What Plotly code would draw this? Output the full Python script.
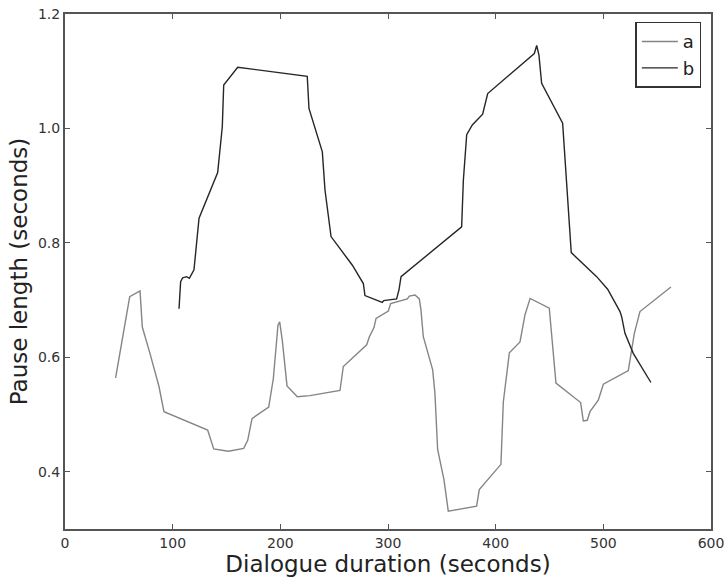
import plotly.graph_objects as go

a_x = [47.0, 52.0, 60.1, 69.7, 71.8, 78.9, 87.3, 91.9, 132.5, 138.1, 151.7, 166.0, 169.7, 173.7,
       189.2, 193.5, 197.8, 199.4, 201.8, 206.2, 215.8, 227.5, 255.4, 258.5, 280.2, 282.7, 287.0,
       288.9, 300.3, 302.5, 318.0, 319.8, 325.1, 329.1, 330.6, 332.8, 341.5, 343.6, 346.1, 352.0,
       356.0, 382.3, 384.8, 404.9, 407.1, 412.7, 422.6, 427.2, 432.0, 449.8, 456.0, 478.9, 481.4,
       485.1, 487.6, 495.3, 500.0, 523.2, 528.8, 534.0, 562.8]
a_y = [0.564, 0.616, 0.706, 0.716, 0.653, 0.607, 0.549, 0.505, 0.473, 0.440, 0.436, 0.441, 0.455, 0.493,
       0.513, 0.563, 0.656, 0.662, 0.630, 0.550, 0.531, 0.533, 0.542, 0.584, 0.622, 0.636, 0.652,
       0.668, 0.681, 0.694, 0.702, 0.707, 0.709, 0.702, 0.683, 0.636, 0.578, 0.537, 0.439, 0.386,
       0.331, 0.340, 0.369, 0.413, 0.522, 0.608, 0.627, 0.674, 0.703, 0.686, 0.555, 0.521, 0.489,
       0.490, 0.505, 0.525, 0.553, 0.577, 0.642, 0.680, 0.723]

b_x = [105.9, 107.4, 109.3, 113.0, 115.5, 119.8, 124.5, 141.8, 146.1, 147.4, 160.4, 225.0, 226.6,
       239.0, 241.5, 247.1, 266.9, 277.1, 278.6, 294.7, 296.0, 308.0, 310.2, 312.1, 368.4, 370.0,
       373.1, 378.3, 387.9, 392.6, 435.9, 438.1, 440.2, 442.7, 462.2, 470.2, 493.8, 504.0, 515.5,
       517.0, 520.1, 527.8, 544.2]
b_y = [0.685, 0.732, 0.739, 0.741, 0.738, 0.753, 0.843, 0.923, 1.003, 1.076, 1.107, 1.091, 1.035,
       0.959, 0.892, 0.811, 0.761, 0.729, 0.708, 0.696, 0.699, 0.702, 0.718, 0.741, 0.828, 0.910,
       0.989, 1.006, 1.025, 1.061, 1.131, 1.145, 1.128, 1.079, 1.009, 0.783, 0.741, 0.719, 0.680,
       0.671, 0.642, 0.607, 0.556]

x_ticks = [0, 100, 200, 300, 400, 500, 600]
y_ticks = [0.4, 0.6, 0.8, 1.0, 1.2]

fig = go.Figure()
fig.add_trace(go.Scatter(x=a_x, y=a_y, mode="lines", name="a",
                         line=dict(color="#858585", width=1.4)))
fig.add_trace(go.Scatter(x=b_x, y=b_y, mode="lines", name="b",
                         line=dict(color="#262626", width=1.4)))

axis_common = dict(showline=True, linecolor="#555555", linewidth=2, mirror="ticks",
                   ticks="inside", ticklen=5, tickcolor="#555555", tickwidth=1,
                   showgrid=False, zeroline=False, automargin=False,
                   tickfont=dict(family="DejaVu Sans", size=14, color="#333333"))

fig.update_layout(
    width=727, height=582,
    margin=dict(l=65, r=16, t=14, b=53),
    plot_bgcolor="white", paper_bgcolor="white",
    xaxis=dict(range=[0, 600], tickvals=x_ticks,
               title=dict(text="Dialogue duration (seconds)", standoff=2,
                          font=dict(family="DejaVu Sans", size=23, color="#222222")),
               **axis_common),
    yaxis=dict(range=[0.3, 1.2], tickvals=y_ticks, tickformat=".1f",
               title=dict(text="Pause length (seconds)", standoff=4,
                          font=dict(family="DejaVu Sans", size=23, color="#222222")),
               **axis_common),
    legend=dict(x=0.985, y=0.985, xanchor="right", yanchor="top",
                bordercolor="#333333", borderwidth=1.5, bgcolor="white",
                font=dict(family="DejaVu Sans", size=18, color="#222222"),
                itemwidth=36, tracegroupgap=0),
    showlegend=True,
)

fig.write_html("out.html")
